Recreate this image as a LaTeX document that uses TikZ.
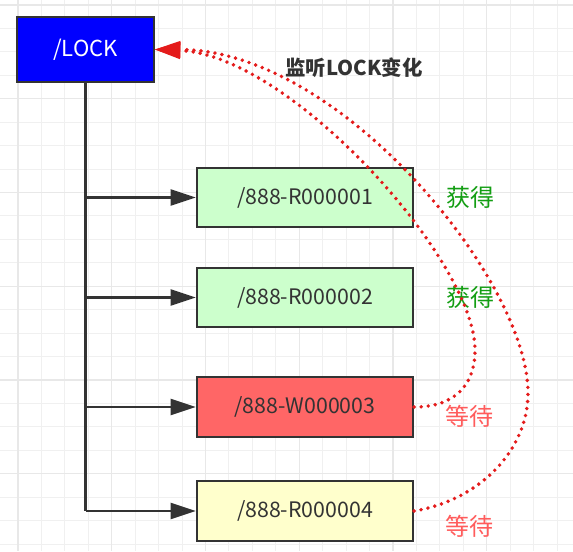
\documentclass[tikz,border=0pt]{standalone}
\usepackage{fontspec}
\setmainfont{Noto Sans CJK SC}
\usetikzlibrary{arrows.meta,positioning}

\definecolor{lockblue}{HTML}{0000FF}
\definecolor{edgegray}{HTML}{333333}
\definecolor{readgreen}{HTML}{CCFFCC}
\definecolor{writered}{HTML}{FF6666}
\definecolor{waityellow}{HTML}{FFFFCC}
\definecolor{gotgreen}{HTML}{139E13}
\definecolor{waitred}{HTML}{FF5C5C}
\definecolor{dotred}{HTML}{E41B1B}
\definecolor{gridminor}{HTML}{F0F0F0}
\definecolor{gridmajor}{HTML}{E8E8E8}

\tikzset{
  zbox/.style={draw=edgegray, line width=1.7pt, minimum width=162pt, minimum height=44.5pt,
    inner sep=0pt, text=edgegray, font=\fontsize{16}{18}\selectfont},
  trunk/.style={draw=edgegray, line width=2pt},
  feed/.style={trunk, -{Triangle[length=19pt, width=12pt]}},
  watchline/.style={draw=dotred, line width=2.9pt, dash pattern=on 0pt off 5.3pt, line cap=round,
    -{Triangle[length=19pt, width=13pt, fill=dotred, line width=0pt]}},
  statelabel/.style={font=\fontsize{18}{20}\selectfont},
}

\begin{document}
\begin{tikzpicture}[x=0.75pt, y=-0.75pt]
    \useasboundingbox (0,0) rectangle (573,551);
    \fill[white] (0,0) rectangle (573,551);

    % background grid
    \foreach \k in {0,...,23} {
        \draw[gridminor, line width=0.75pt] ({18+23.44*\k}, 0) -- ({18+23.44*\k}, 551);
        \draw[gridminor, line width=0.75pt] (0, {5+23.44*\k}) -- (573, {5+23.44*\k});
    }
    \foreach \k in {0,4,...,20} {
        \draw[gridmajor, line width=0.9pt] ({18+23.44*\k}, 0) -- ({18+23.44*\k}, 551);
        \draw[gridmajor, line width=0.9pt] (0, {5+23.44*\k}) -- (573, {5+23.44*\k});
    }

    % znodes
    \node (lock) at (85.5,49.5) [zbox, fill=lockblue, minimum width=102.5pt, minimum height=48.5pt, text=white,
        font=\fontsize{16.5}{18}\selectfont] {/LOCK};
    \node (r1) at (305,197.5) [zbox, fill=readgreen] {/888-R000001};
    \node (r2) at (305,297.5) [zbox, fill=readgreen] {/888-R000002};
    \node (w3) at (305,407) [zbox, fill=writered] {/888-W000003};
    \node (r4) at (305,511) [zbox, fill=waityellow] {/888-R000004};

    % children
    \draw[trunk] (lock.south) -- (lock.south |- r4.west);
    \foreach \child in {r1,r2,w3,r4}
        \draw[feed] (lock.south |- \child.west) -- (\child.west);

    % states
    \node (got1) at (470,197) [statelabel, text=gotgreen] {获得};
    \node (got2) at (470,297) [statelabel, text=gotgreen] {获得};
    \node (wait3) at (469,416) [statelabel, text=waitred] {等待};
    \node (wait4) at (469,526) [statelabel, text=waitred] {等待};

    % watch
    \coordinate (bend3) at (475,350);
    \coordinate (bend4) at (528,393);
    \draw[watchline] (w3.east) .. controls (455,407) and (475,385) .. (bend3)
        .. controls (475,260) and (290,55) .. (lock.east);
    \draw[watchline] (r4.east) .. controls (480,500) and (528,450) .. (bend4)
        .. controls (528,280) and (340,50) .. (lock.east);
    \node (watch) at (354,68) [text=edgegray, font=\bfseries\fontsize{15.3}{17}\selectfont] {监听LOCK变化};

\end{tikzpicture}
\end{document}
